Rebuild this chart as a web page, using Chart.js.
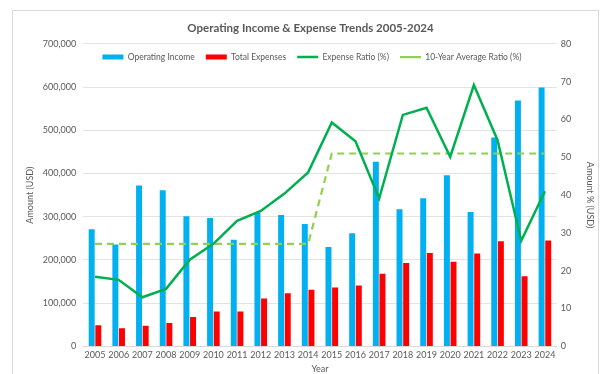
<!DOCTYPE html>
<html>
<head>
<meta charset="utf-8">
<script src="https://cdn.jsdelivr.net/npm/chart.js@4.4.1/dist/chart.umd.min.js"></script>
<style>
  html, body { margin: 0; padding: 0; background: #fff; overflow: hidden; }
  #wrap {
    position: absolute; left: 12px; top: 10px;
    width: 585px; height: 363px;
    border: 1px solid #d9d9d9;
  }
</style>
</head>
<body>
<div id="wrap"><canvas id="incomeChart"></canvas></div>
<script>
// dados
const anos = ['2005','2006','2007','2008','2009','2010','2011','2012','2013','2014',
              '2015','2016','2017','2018','2019','2020','2021','2022','2023','2024'];
const receitaOperacional = [271000, 236000, 372000, 361000, 301000, 297000, 247000, 310000, 304000, 283000,
                            230000, 262000, 427000, 317000, 343000, 396000, 311000, 483000, 569000, 599000];
const despesasTotais = [49000, 42000, 48000, 54000, 68000, 81000, 81000, 111000, 123000, 131000,
                        136000, 141000, 168000, 193000, 216000, 196000, 215000, 243000, 162000, 245000];
const razaoDespesa = [18.4, 17.6, 13.0, 15.2, 22.9, 27.1, 33.2, 35.8, 40.4, 46.0,
                      59.2, 54.2, 39.1, 61.2, 63.1, 50.1, 69.1, 54.5, 27.9, 41.0];
const mediaDezAnos = [27.1, 27.1, 27.1, 27.1, 27.1, 27.1, 27.1, 27.1, 27.1, 27.1,
                      51.0, 51.0, 51.0, 51.0, 51.0, 51.0, 51.0, 51.0, 51.0, 51.0];

const fonte = 'Lato, "Open Sans", sans-serif';
const cinza = '#595959';

// legenda dentro da área do gráfico, mas em uma linha só (como no Excel)
const legendaHorizontal = {
    id: 'legendaHorizontal',
    beforeLayout(chart) {
        if (chart.legend) chart.legend.isHorizontal = () => true;
    },
    afterLayout(chart) {
        const lg = chart.legend, area = chart.chartArea;
        if (!lg) return;
        lg.left = area.left - 8;
        lg.right = area.right - 8;
        lg.top -= 2;
        lg.bottom -= 2;
    }
};

new Chart(document.getElementById('incomeChart'), {
    data: {
        labels: anos,
        datasets: [{
            type: 'bar',
            label: 'Operating Income',
            data: receitaOperacional,
            backgroundColor: '#00B0F0',
            borderWidth: 0,
            pointStyle: 'rect',
            categoryPercentage: 0.56,
            barPercentage: 0.9,
            yAxisID: 'y',
            order: 2
        }, {
            type: 'bar',
            label: 'Total Expenses',
            data: despesasTotais,
            backgroundColor: '#FF0000',
            borderWidth: 0,
            pointStyle: 'rect',
            categoryPercentage: 0.56,
            barPercentage: 0.9,
            yAxisID: 'y',
            order: 2
        }, {
            type: 'line',
            label: 'Expense Ratio (%)',
            data: razaoDespesa,
            borderColor: '#00B050',
            backgroundColor: '#00B050',
            borderWidth: 2.5,
            pointRadius: 0,
            pointStyle: 'line',
            tension: 0,
            yAxisID: 'y1',
            order: 1
        }, {
            type: 'line',
            label: '10-Year Average Ratio (%)',
            data: mediaDezAnos,
            borderColor: '#92D050',
            backgroundColor: '#92D050',
            borderWidth: 2.2,
            borderDash: [7, 5],
            pointRadius: 0,
            pointStyle: 'line',
            tension: 0,
            yAxisID: 'y1',
            order: 1
        }]
    },
    options: {
        responsive: true,
        maintainAspectRatio: false,
        animation: false,
        layout: { padding: { left: 12, right: 2, bottom: 0 } },
        plugins: {
            title: {
                display: true,
                text: 'Operating Income & Expense Trends 2005-2024',
                color: cinza,
                font: { family: fonte, size: 11.5, weight: 'bold' },
                padding: { top: 10, bottom: 9 }
            },
            legend: {
                position: 'chartArea',
                labels: {
                    usePointStyle: true,
                    pointStyleWidth: 21,
                    boxHeight: 5,
                    color: cinza,
                    font: { family: fonte, size: 8.5 },
                    padding: 11,
                    sort: (a, b) => a.datasetIndex - b.datasetIndex
                }
            },
            tooltip: { enabled: false }
        },
        scales: {
            x: {
                grid: { display: false, drawTicks: false },
                border: { color: '#d9d9d9' },
                ticks: { color: cinza, font: { family: fonte, size: 9 }, maxRotation: 0, autoSkip: false, padding: 3 },
                title: { display: true, text: 'Year', color: cinza, font: { family: fonte, size: 9 }, padding: { top: 0, bottom: 0 } }
            },
            y: {
                position: 'left',
                min: 0,
                max: 700000,
                ticks: {
                    stepSize: 100000,
                    color: cinza,
                    font: { family: fonte, size: 9 },
                    padding: 7,
                    callback: v => v.toLocaleString('en-US')
                },
                grid: { color: '#e3e3e3', drawTicks: false },
                border: { display: false },
                title: { display: true, text: 'Amount (USD)', color: cinza, font: { family: fonte, size: 9 }, padding: 0 }
            },
            y1: {
                position: 'right',
                min: 0,
                max: 80,
                ticks: { stepSize: 10, color: cinza, font: { family: fonte, size: 9 }, padding: 4 },
                grid: { display: false, drawTicks: false },
                border: { display: false },
                title: { display: true, text: 'Amount % (USD)', color: cinza, font: { family: fonte, size: 9 }, padding: { top: 1, bottom: 9 } }
            }
        }
    },
    plugins: [legendaHorizontal]
});
</script>
</body>
</html>
